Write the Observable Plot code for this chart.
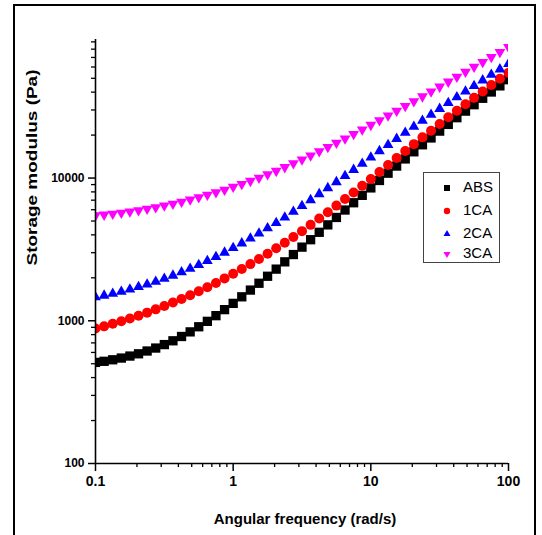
<!DOCTYPE html>
<html>
<head>
<meta charset="utf-8">
<script src="https://cdn.jsdelivr.net/npm/d3@7"></script>
<script src="https://cdn.jsdelivr.net/npm/@observablehq/plot@0.6"></script>
<style>
  html, body { margin: 0; padding: 0; background: #fff; }
  #wrap { position: relative; width: 542px; height: 535px; overflow: hidden; font-family: "Liberation Sans", Arial, sans-serif; }
  #frame { position: absolute; left: 13px; top: 4px; width: 523px; height: 560px; border: 2px solid #000; box-sizing: border-box; pointer-events: none; }
  #legend { position: absolute; left: 423px; top: 172px; width: 77px; height: 91px; border: 1px solid #444; box-sizing: border-box; background: #fff; }
  .item { position: absolute; left: 0; height: 20px; width: 76px; }
  .item svg { position: absolute; left: 15px; top: 3px; }
  .item span { position: absolute; left: 39px; top: 1px; font-size: 15px; line-height: 18px; color: #000; }
</style>
</head>
<body>
<div id="wrap">
  <div id="chart"></div>
  <div id="legend"></div>
  <div id="frame"></div>
</div>
<script>
// ---- data ----
const seriesNames = ["ABS", "1CA", "2CA", "3CA"];
const seriesColors = ["#000000", "#ff0000", "#0000ff", "#ff00ff"];

const freq = [
  0.1, 0.1155, 0.1334, 0.154, 0.1778, 0.2054, 0.2371, 0.2738, 0.3162, 0.3652, 0.4217, 0.487, 0.5623, 0.6494, 0.7499, 0.866,
  1, 1.155, 1.334, 1.54, 1.778, 2.054, 2.371, 2.738, 3.162, 3.652, 4.217, 4.87, 5.623, 6.494, 7.499, 8.66,
  10, 11.55, 13.34, 15.4, 17.78, 20.54, 23.71, 27.38, 31.62, 36.52, 42.17, 48.7, 56.23, 64.94, 74.99, 86.6, 100
];

const absValues = [
  511, 520, 533, 548, 566, 587, 614, 644, 681, 724, 776, 836, 908, 991, 1086, 1197,
  1324, 1472, 1641, 1832, 2051, 2301, 2588, 2911, 3281, 3698, 4169, 4699, 5297, 5970, 6714, 7568,
  8531, 9616, 10814, 12134, 13614, 15276, 17100, 19099, 21330, 23768, 26485, 29444, 32659, 36224, 40087, 44259, 48865
];

const ca1Values = [
  883, 914, 953, 991, 1036, 1086, 1140, 1202, 1271, 1343, 1419, 1510, 1609, 1720, 1840, 1981,
  2133, 2307, 2495, 2710, 2951, 3221, 3524, 3864, 4246, 4699, 5200, 5768, 6412, 7129, 7925, 8831,
  9863, 11040, 12352, 13823, 15471, 17280, 19284, 21481, 23933, 26650, 29613, 32900, 36475, 40442, 44823, 49570, 54702
];

const ca2Values = [
  1462, 1503, 1549, 1600, 1660, 1726, 1799, 1879, 1972, 2075, 2188, 2317, 2460, 2624, 2805, 3006,
  3236, 3491, 3776, 4093, 4457, 4853, 5297, 5808, 6383, 7015, 7727, 8511, 9376, 10351, 11429, 12618,
  13964, 15453, 17061, 18836, 20797, 22909, 25235, 27797, 30549, 33574, 36898, 40458, 44259, 48417, 52966, 57810, 63096
];

const ca3Values = [
  5470, 5534, 5623, 5715, 5821, 5943, 6081, 6237, 6412, 6607, 6823, 7063, 7328, 7621, 7943, 8279,
  8670, 9078, 9550, 10046, 10617, 11220, 11912, 12677, 13490, 14388, 15382, 16482, 17660, 18923, 20324, 21878,
  23550, 25410, 27416, 29580, 31915, 34514, 37325, 40365, 43652, 47315, 51168, 55463, 60117, 65013, 70469, 76383, 82604
];

const xMajorTicks = [0.1, 1, 10, 100];
const xTickLabels = ["0.1", "1", "10", "100"];
const xMinorTicks = [0.2, 0.3, 0.4, 0.5, 0.6, 0.7, 0.8, 0.9, 2, 3, 4, 5, 6, 7, 8, 9, 20, 30, 40, 50, 60, 70, 80, 90];
const yMajorTicks = [100, 1000, 10000];
const yTickLabels = ["100", "1000", "10000"];
const yMinorTicks = [200, 300, 400, 500, 600, 700, 800, 900, 2000, 3000, 4000, 5000, 6000, 7000, 8000, 9000,
  20000, 30000, 40000, 50000, 60000, 70000, 80000, 90000];

const xTitle = "Angular frequency (rad/s)";
const yTitle = "Storage modulus (Pa)";

// ---- build ----
const allValues = [absValues, ca1Values, ca2Values, ca3Values];
const tables = allValues.map(vals => freq.map((f, i) => ({freq: f, value: vals[i]})));

const triangleDown = {
  draw(ctx, size) {
    const y = Math.sqrt(size / (Math.sqrt(3) * 3));
    ctx.moveTo(0, y * 2);
    ctx.lineTo(-Math.sqrt(3) * y, -y);
    ctx.lineTo(Math.sqrt(3) * y, -y);
    ctx.closePath();
  }
};
const symbols = ["square", "circle", "triangle", triangleDown];
const radii = [5.25, 5.0, 4.0, 4.0];

const fmt = (ticks, labels) => d => labels[ticks.indexOf(d)] ?? "";

const chart = Plot.plot({
  width: 542,
  height: 535,
  marginLeft: 95,
  marginRight: 34,
  marginTop: 39,
  marginBottom: 72,
  style: {fontFamily: "'Liberation Sans', Arial, sans-serif", color: "#000", background: "transparent"},
  x: {type: "log", domain: [0.1, 100], axis: null},
  y: {type: "log", domain: [100, 93500], axis: null},
  marks: [
    ...tables.map((t, k) => Plot.dot(t, {
      x: "freq", y: "value", symbol: symbols[k], r: radii[k],
      fill: seriesColors[k], stroke: "none", clip: true
    })),
    Plot.ruleX([0.1], {stroke: "#000", strokeWidth: 1.6}),
    Plot.ruleY([100], {stroke: "#000", strokeWidth: 1.6}),
    Plot.axisX(xMajorTicks, {anchor: "bottom", tickSize: 8, tickPadding: 5, strokeWidth: 1.5,
      fontSize: 14, fontWeight: "bold", tickFormat: fmt(xMajorTicks, xTickLabels), label: null}),
    Plot.axisX(xMinorTicks, {anchor: "bottom", tickSize: 4, strokeWidth: 1.3, fill: "none", label: null}),
    Plot.axisY(yMajorTicks, {anchor: "left", tickSize: 7, tickPadding: 4, strokeWidth: 1.5,
      fontSize: 12, fontWeight: "bold", tickFormat: fmt(yMajorTicks, yTickLabels), label: null}),
    Plot.axisY(yMinorTicks, {anchor: "left", tickSize: 4, strokeWidth: 1.3, fill: "none", label: null}),
    Plot.text([xTitle], {frameAnchor: "bottom", text: d => d, dy: 56, dx: 3, lineAnchor: "middle",
      fontSize: 15, fontWeight: "bold", fill: "#000"}),
    Plot.text([yTitle], {frameAnchor: "left", text: d => d, rotate: -90, dx: -63, dy: 14, lineAnchor: "middle",
      fontSize: 15, fontWeight: "bold", fill: "#000"})
  ]
});

d3.select(chart).selectAll("text")
  .filter(function() { return this.textContent === yTitle; })
  .attr("textLength", 196)
  .attr("lengthAdjust", "spacingAndGlyphs");

document.getElementById("chart").appendChild(chart);

// ---- legend ----
const legend = d3.select("#legend");
const itemTops = [4, 27, 50, 70];
const legendR = [3.4, 3.2, 2.6, 2.6];
seriesNames.forEach((name, k) => {
  const item = legend.append("div").attr("class", "item").style("top", itemTops[k] + "px");
  const svg = item.append("svg").attr("width", 16).attr("height", 16);
  const sym = typeof symbols[k] === "string"
    ? {square: d3.symbolSquare, circle: d3.symbolCircle, triangle: d3.symbolTriangle}[symbols[k]]
    : symbols[k];
  svg.append("path")
    .attr("transform", "translate(8,8)")
    .attr("d", d3.symbol(sym, Math.PI * legendR[k] * legendR[k])())
    .attr("fill", seriesColors[k]);
  item.append("span").text(name);
});
</script>
</body>
</html>
